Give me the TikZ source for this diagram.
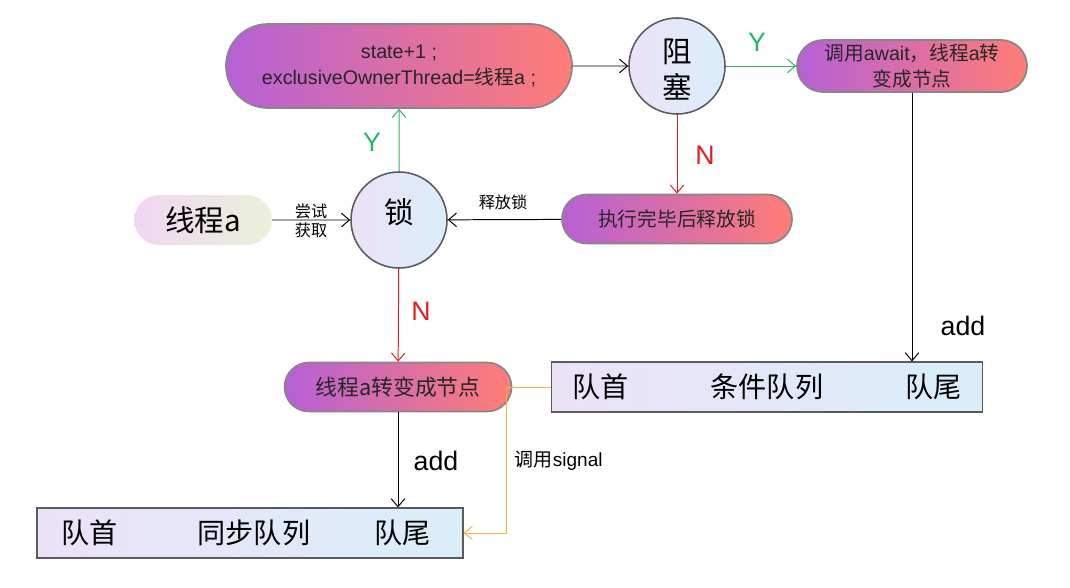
\documentclass[tikz,border=0pt]{standalone}
\usepackage{fontspec}
\setmainfont{Liberation Sans}
\newfontfamily\cjk{Noto Sans CJK SC}
\usetikzlibrary{shapes.misc,arrows.meta}

\definecolor{pillpurple}{RGB}{182,96,214}
\definecolor{pillsalmon}{RGB}{255,125,118}
\definecolor{pillgray}{RGB}{135,135,135}
\definecolor{circlav}{RGB}{236,226,248}
\definecolor{circblue}{RGB}{218,238,250}
\definecolor{circgray}{RGB}{90,90,90}
\definecolor{threadpink}{RGB}{241,214,242}
\definecolor{threadgreen}{RGB}{234,241,218}
\definecolor{yesgreen}{RGB}{40,180,100}
\definecolor{nored}{RGB}{228,30,30}
\definecolor{sigorange}{RGB}{246,176,72}

\tikzset{
	pill/.style={rounded rectangle, draw=pillgray, line width=1.2pt, left color=pillpurple, right color=pillsalmon, align=center, inner sep=0pt, text=black!85},
	state/.style={circle, draw=circgray, line width=1.1pt, left color=circlav, right color=circblue, minimum size=2.4cm, inner sep=0pt, align=center},
	queue/.style={rectangle, draw=circgray, line width=0.8pt, left color=circlav, right color=circblue, minimum height=1.25cm, inner ysep=0pt, font=\cjk\fontsize{20}{24}\selectfont},
	flow/.style={-{Straight Barb[length=2mm,width=3.4mm]}, line width=0.7pt},
	tag/.style={font=\fontsize{19}{22}\selectfont},
	note/.style={font=\cjk\fontsize{11.5}{14}\selectfont, align=center}
}

\begin{document}
\begin{tikzpicture}[x=0.025cm, y=-0.025cm]

		\useasboundingbox (0,0) rectangle (1070,587);

		\node[pill, minimum width=8.65cm, minimum height=2.1cm, font=\fontsize{14}{19}\selectfont] (cas) at (399,66) {state+1 ;\\exclusiveOwnerThread={\cjk 线程}a ;};
		\node[state, font=\cjk\fontsize{21}{25}\selectfont] (block) at (677,66) {\raisebox{-5.5pt}[\height][\depth]{\begin{tabular}{@{}c@{}}阻\\塞\end{tabular}}};
		\node[pill, minimum width=5.75cm, minimum height=1.3cm, font=\fontsize{14}{18}\selectfont] (await) at (912,66) {{\cjk 调用}await{\cjk ，线程}a{\cjk 转}\\{\cjk 变成节点}};

		\node[rounded rectangle, left color=threadpink, right color=threadgreen, minimum width=3.675cm, minimum height=1.25cm, font=\cjk\fontsize{21}{25}\selectfont] (thread) at (203,220) {线程a};
		\node[state, font=\cjk\fontsize{21}{25}\selectfont] (lock) at (399,220) {\raisebox{5.5pt}[\height][\depth]{锁}};
		\node[pill, minimum width=5.75cm, minimum height=1.225cm, font=\cjk\fontsize{14}{18}\selectfont] (release) at (677,219) {执行完毕后释放锁};

		\node[pill, minimum width=5.675cm, minimum height=1.225cm, font=\cjk\fontsize{15.5}{18}\selectfont] (tonode) at (398,387) {线程a转变成节点};
		\node[queue, inner xsep=0.525cm] (cq) at (767,387) {队首\hspace{2.05cm}条件队列\hspace{2.05cm}队尾};
		\node[queue, inner xsep=0pt, minimum width=10.65cm] (sq) at (250,533) {队首\hspace{2cm}同步队列\hspace{1.6cm}队尾\hspace*{0.2cm}};

		\coordinate (sigturn) at (506,533);

		\draw[flow] (cas) -- (block);
		\draw[flow, yesgreen] (block) -- (await);
		\draw[flow, nored] (block.south) -- (block.south |- release.north);
		\draw[flow] (thread) -- (lock);
		\draw[flow] (release) -- (lock);
		\draw[flow, yesgreen] (lock) -- (cas);
		\draw[flow, nored] (lock) -- (tonode);
		\draw[flow] (tonode.south) -- (tonode.south |- sq.north);
		\draw[flow] (await.south) -- (await.south |- cq.north);
		\draw[flow, sigorange] (cq.west) -| (sigturn) -- (sq.east);

		\node[tag, text=yesgreen] (yblock) at (757,42) {Y};
		\node[tag, text=nored] (nblock) at (705,155) {N};
		\node[tag, text=yesgreen] (ylock) at (372,142) {Y};
		\node[tag, text=nored] (nlock) at (421,311) {N};
		\node[tag] (addsq) at (436,461) {add};
		\node[tag] (addcq) at (963,326) {add};
		\node[note] (tryget) at (311,221) {尝试\\获取};
		\node[note] (unlock) at (503,202) {释放锁};
		\node[font=\fontsize{13.5}{16}\selectfont, anchor=west] (signal) at (510,461) {{\cjk 调用}signal};

	\end{tikzpicture}
\end{document}
